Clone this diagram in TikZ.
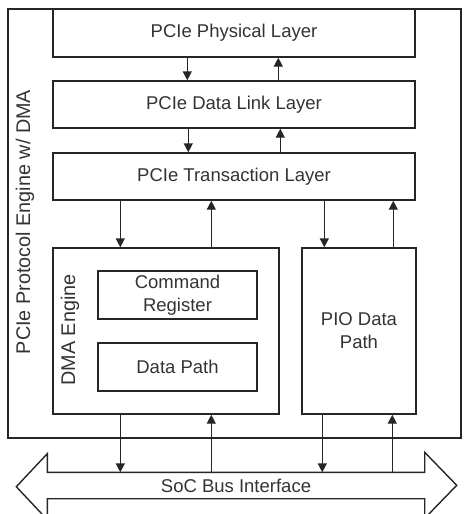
\documentclass[tikz,border=0pt]{standalone}
\usepackage{fontspec}
\setmainfont{Liberation Sans}
\usetikzlibrary{arrows.meta}
\begin{document}
\begin{tikzpicture}[x=1pt,y=-1pt,
  line width=1.4pt,
  every node/.style={text=black!80, font=\fontsize{18.5}{23}\selectfont},
  blk/.style={draw=black!85, rectangle, inner sep=0pt, align=center},
  vlabel/.style={rotate=90, font=\fontsize{19.8}{23}\selectfont},
  arr/.style={draw=black!85, -{Triangle[length=9pt,width=9pt]}}]
  \useasboundingbox (0,0) rectangle (467,514);
  \clip (0,0) rectangle (467,514);

  % enclosing protocol engine
  \node[blk, minimum width=453, minimum height=429] (engine) at (234.5,223.5) {};
  \node[vlabel] (enginelbl) at (25,222) {PCIe Protocol Engine w/ DMA};

  % PCIe layer stack
  \node[blk, fill=white, minimum width=362, minimum height=48] (phys) at (234,33) {PCIe Physical Layer};
  \node[blk, minimum width=362, minimum height=47] (dl) at (234,104.5) {PCIe Data Link Layer};
  \node[blk, minimum width=362, minimum height=47] (tl) at (234,176.5) {PCIe Transaction Layer};

  % DMA engine and PIO path
  \node[blk, minimum width=226, minimum height=166] (dma) at (166,331) {};
  \node[vlabel] (dmalbl) at (70,330) {DMA Engine};
  \node[blk, minimum width=159, minimum height=48] (cmd) at (177.5,295) {Command\\Register};
  \node[blk, minimum width=159, minimum height=48] (dpath) at (177.5,367) {Data Path};
  \node[blk, minimum width=114, minimum height=166] (pio) at (359,331) {PIO Data\\Path};

  % SoC bus: shaft node plus double-headed outline
  \node[inner sep=0pt, minimum width=376, minimum height=25] (bus) at (236,485.5) {SoC Bus Interface};
  \draw[black!85, line join=miter]
    (bus.north west) -- (bus.north east) -- ++(0,-20) -- ++(32,33) -- ++(-32,33)
    -- (bus.south east) -- (bus.south west) -- ++(0,21) -- ++(-31,-33) -- ++(31,-33) -- cycle;

  % physical <-> data link
  \draw[arr] ([xshift=135pt]phys.south west) -- ([xshift=135pt]dl.north west);
  \draw[arr] ([xshift=226pt]dl.north west) -- ([xshift=226pt]phys.south west);
  % data link <-> transaction
  \draw[arr] ([xshift=136pt]dl.south west) -- ([xshift=136pt]tl.north west);
  \draw[arr] ([xshift=228pt]tl.north west) -- ([xshift=228pt]dl.south west);
  % transaction <-> DMA engine
  \draw[arr] ([xshift=68pt]dma.north west |- tl.south) -- ([xshift=68pt]dma.north west);
  \draw[arr] ([xshift=159pt]dma.north west) -- ([xshift=159pt]dma.north west |- tl.south);
  % transaction <-> PIO data path
  \draw[arr] ([xshift=23pt]pio.north west |- tl.south) -- ([xshift=23pt]pio.north west);
  \draw[arr] ([xshift=92pt]pio.north west) -- ([xshift=92pt]pio.north west |- tl.south);
  % DMA engine <-> SoC bus
  \draw[arr] ([xshift=68pt]dma.south west) -- ([xshift=68pt]dma.south west |- bus.north);
  \draw[arr] ([xshift=159pt]dma.south west |- bus.north) -- ([xshift=159pt]dma.south west);
  % PIO data path <-> SoC bus
  \draw[arr] ([xshift=21pt]pio.south west) -- ([xshift=21pt]pio.south west |- bus.north);
  \draw[arr] ([xshift=91pt]pio.south west |- bus.north) -- ([xshift=91pt]pio.south west);
\end{tikzpicture}
\end{document}
